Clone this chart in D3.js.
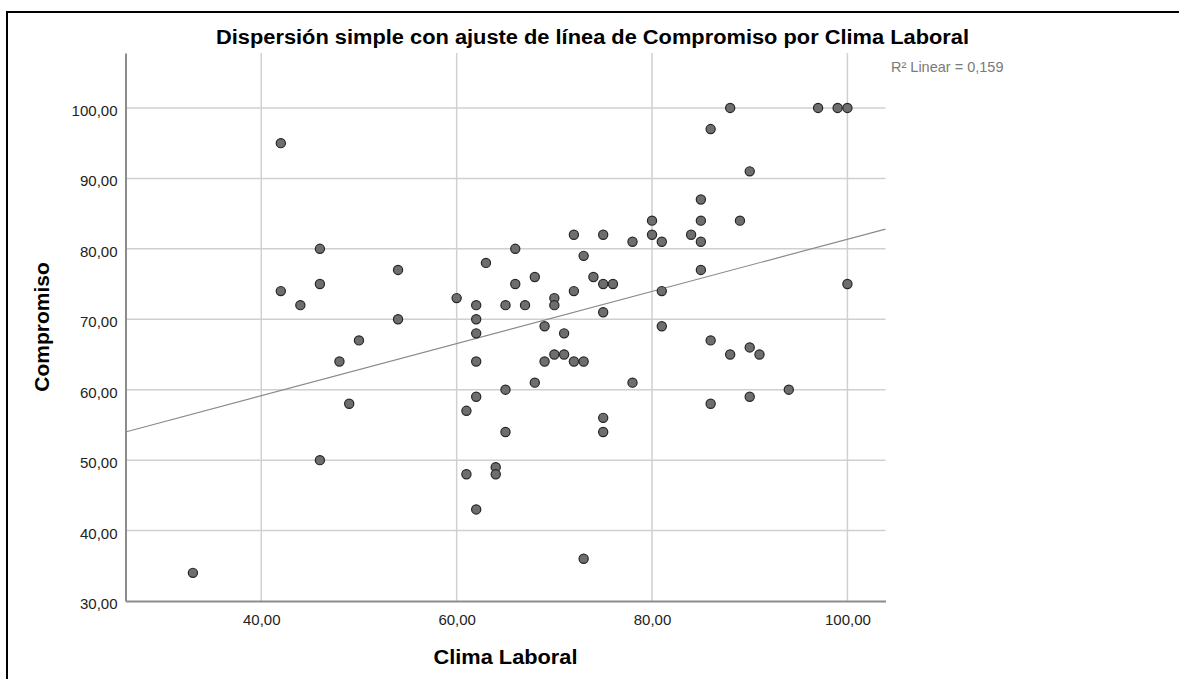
<!DOCTYPE html>
<html>
<head>
<meta charset="utf-8">
<script src="https://cdn.jsdelivr.net/npm/d3@7"></script>
<style>
  html, body { margin: 0; padding: 0; background: #fff; }
  svg { display: block; font-family: "Liberation Sans", Arial, sans-serif; }
</style>
</head>
<body>
<svg id="chart" width="1179" height="679"></svg>
<script>
// ---- Data ----
const climaLaboral = [33,42,42,44,46,46,46,48,49,50,
  54,54,60,61,61,62,62,62,62,62,
  62,63,64,64,65,65,65,66,66,67,
  68,68,69,69,70,70,70,71,71,72,
  72,72,73,73,73,74,75,75,75,75,
  75,76,78,78,80,80,81,81,81,84,
  85,85,85,85,86,86,86,88,88,89,
  90,90,90,91,94,97,99,100,100];
const compromiso = [34,95,74,72,80,75,50,64,58,67,
  77,70,73,57,48,72,70,68,64,59,
  43,78,49,48,72,60,54,80,75,72,
  76,61,69,64,73,72,65,68,65,82,
  74,64,79,64,36,76,82,75,71,56,
  54,75,81,61,84,82,81,74,69,82,
  87,84,81,77,97,67,58,100,65,84,
  91,66,59,65,60,100,100,100,75];
const xTicks = [40, 60, 80, 100];
const yTicks = [30, 40, 50, 60, 70, 80, 90, 100];
const xDomain = [26.1, 103.9];
const yDomain = [30, 107.8];
const titleText = "Dispersión simple con ajuste de línea de Compromiso por Clima Laboral";
const xLabel = "Clima Laboral";
const yLabel = "Compromiso";
const r2Text = "R² Linear = 0,159";

// ---- Layout ----
const svg = d3.select("#chart");
const plot = { left: 125.5, right: 885.5, top: 53, bottom: 601 };
const x = d3.scaleLinear().domain(xDomain).range([plot.left, plot.right]);
const y = d3.scaleLinear().domain(yDomain).range([plot.bottom, plot.top]);
const fmt = v => d3.format(".2f")(v).replace(".", ",");

// outer frame
svg.append("path")
  .attr("d", "M7,679 L7,12 L1179,12")
  .attr("fill", "none").attr("stroke", "#000").attr("stroke-width", 2);

// title
svg.append("text")
  .attr("x", 592.5).attr("y", 43.5)
  .attr("text-anchor", "middle")
  .attr("font-size", 20).attr("font-weight", "bold").attr("fill", "#000")
  .attr("textLength", 753).attr("lengthAdjust", "spacingAndGlyphs")
  .text(titleText);

// gridlines
const grid = svg.append("g");
grid.selectAll(".vg").data(xTicks).enter().append("line")
  .attr("x1", d => x(d)).attr("x2", d => x(d))
  .attr("y1", plot.top).attr("y2", plot.bottom)
  .attr("stroke", "#d0d0d0").attr("stroke-width", 1.5);
grid.selectAll(".hg").data(yTicks.filter(d => d > yDomain[0])).enter().append("line")
  .attr("x1", plot.left).attr("x2", plot.right)
  .attr("y1", d => y(d)).attr("y2", d => y(d))
  .attr("stroke", "#d0d0d0").attr("stroke-width", 1.5);

// axes
const xAxis = d3.axisBottom(x).tickValues(xTicks).tickFormat(fmt).tickSize(0).tickPadding(13);
const yAxis = d3.axisLeft(y).tickValues(yTicks).tickFormat(fmt).tickSize(0).tickPadding(8);
const gx = svg.append("g").attr("transform", `translate(0,${plot.bottom})`).call(xAxis);
const gy = svg.append("g").attr("transform", `translate(${plot.left},0)`).call(yAxis);
[gx, gy].forEach(g => {
  g.select(".domain").attr("stroke", "#8c8c8c").attr("stroke-width", 2);
  g.selectAll("text").attr("font-size", 15).attr("fill", "#222")
    .attr("font-family", "'Liberation Sans', Arial, sans-serif");
});
gy.selectAll("text").attr("dy", "0.5em");

// axis titles
svg.append("text")
  .attr("x", (plot.left + plot.right) / 2).attr("y", 664)
  .attr("text-anchor", "middle")
  .attr("font-size", 21).attr("font-weight", "bold").attr("fill", "#000")
  .attr("textLength", 144).attr("lengthAdjust", "spacingAndGlyphs")
  .text(xLabel);
svg.append("text")
  .attr("transform", `translate(49,${(plot.top + plot.bottom) / 2}) rotate(-90)`)
  .attr("text-anchor", "middle")
  .attr("font-size", 21).attr("font-weight", "bold").attr("fill", "#000")
  .text(yLabel);

// least squares fit line
const n = climaLaboral.length;
const mx = d3.mean(climaLaboral), my = d3.mean(compromiso);
let sxy = 0, sxx = 0;
for (let i = 0; i < n; i++) {
  sxy += (climaLaboral[i] - mx) * (compromiso[i] - my);
  sxx += (climaLaboral[i] - mx) ** 2;
}
const slope = sxy / sxx, intercept = my - slope * mx;
svg.append("line")
  .attr("x1", x(xDomain[0])).attr("y1", y(intercept + slope * xDomain[0]))
  .attr("x2", x(xDomain[1])).attr("y2", y(intercept + slope * xDomain[1]))
  .attr("stroke", "#8a8a8a").attr("stroke-width", 1.2);

// points
svg.append("g").selectAll("circle")
  .data(climaLaboral.map((v, i) => [v, compromiso[i]]))
  .enter().append("circle")
  .attr("cx", d => x(d[0])).attr("cy", d => y(d[1]))
  .attr("r", 4.6)
  .attr("fill", "#6e6e6e").attr("stroke", "#262626").attr("stroke-width", 1.2);

// R2 annotation
svg.append("text")
  .attr("x", 891).attr("y", 71.5)
  .attr("font-size", 14.5).attr("fill", "#7a7a7a")
  .text(r2Text);
</script>
</body>
</html>
